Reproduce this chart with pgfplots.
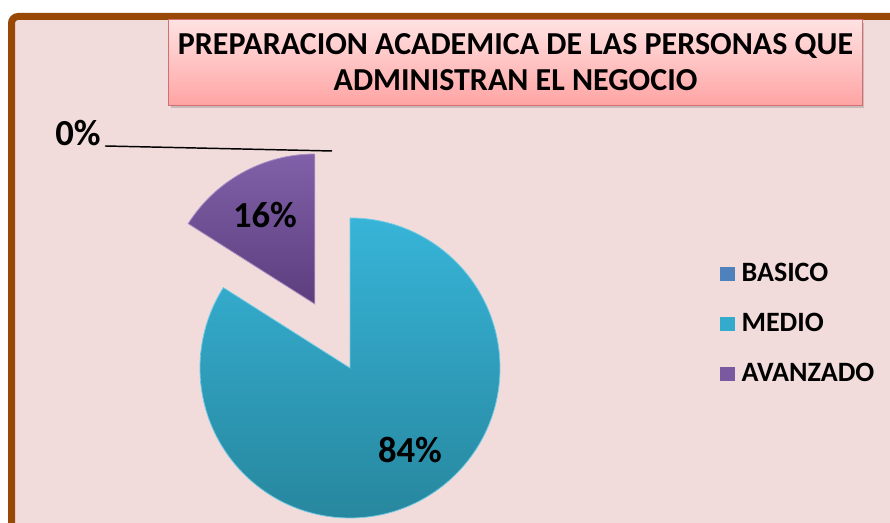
\documentclass[border=0pt]{standalone}
\usepackage{pgfplots}
\pgfplotsset{compat=1.18}
\usepackage{pgfplotstable}
\usepackage{fontspec}
\setmainfont{Carlito}
\usetikzlibrary{shadows}

\definecolor{bgpink}{HTML}{F2DCDB}
\definecolor{frame}{HTML}{984807}
\definecolor{ttop}{HTML}{FFE2E2}
\definecolor{tbot}{HTML}{FFA4A4}
\definecolor{tline}{HTML}{D46F71}
\definecolor{basico}{HTML}{4F81BD}
\definecolor{medtop}{HTML}{37B4D8}
\definecolor{medbot}{HTML}{27879E}
\definecolor{avatop}{HTML}{8060A8}
\definecolor{avabot}{HTML}{5C3E7E}

% shares of each level, in percent
\pgfplotstableread{
label value
BASICO 0
MEDIO 84
AVANZADO 16
}\piedata

\pgfplotstablegetelem{0}{value}\of\piedata \pgfmathtruncatemacro\vbas{\pgfplotsretval}
\pgfplotstablegetelem{1}{value}\of\piedata \pgfmathtruncatemacro\vmed{\pgfplotsretval}
\pgfplotstablegetelem{2}{value}\of\piedata \pgfmathtruncatemacro\vava{\pgfplotsretval}
% slices run clockwise from 12 o'clock
\pgfmathsetmacro\aA{90-3.6*\vbas}
\pgfmathsetmacro\aB{\aA-3.6*\vmed}
\pgfmathsetmacro\aC{\aB-3.6*\vava}
\pgfmathsetmacro\mC{(\aB+\aC)/2}
\pgfmathsetmacro\cx{350+73*cos(\mC)}
\pgfmathsetmacro\cy{155+73*sin(\mC)}

\begin{document}
\begin{tikzpicture}
\begin{axis}[
  x=0.75pt, y=0.75pt,
  xmin=0, xmax=890, ymin=0, ymax=523,
  hide axis, scale only axis, clip=false,
  at={(0,0)}, anchor=south west,
  legend style={at={(axis cs:716,264)}, anchor=north west,
    draw=none, fill=none, font=\bfseries\fontsize{21pt}{21pt}\selectfont,
    row sep=19.5pt, column sep=5pt,
    nodes={inner sep=0pt, text height=15pt, text depth=3pt}},
  legend cell align=left,
]
% frame and background
\fill[white] (axis cs:0,0) rectangle (axis cs:890,523);
\draw[line width=5.25pt, frame, fill=bgpink, rounded corners=5pt]
  (axis cs:11.5,-30) rectangle (axis cs:930,506.5);

% MEDIO
\path[top color=medtop, bottom color=medbot, draw=medtop!70!white, line width=0.6pt]
  (axis cs:350,155) -- ++(\aA:112.5pt) arc[start angle=\aA, end angle=\aB, radius=112.5pt] -- cycle;
% AVANZADO, pulled out
\path[top color=avatop, bottom color=avabot, draw=avatop!70!white, line width=0.6pt]
  (axis cs:\cx,\cy) -- ++(\aB:112.5pt) arc[start angle=\aB, end angle=\aC, radius=112.5pt] -- cycle;

% data labels
\node[font=\bfseries\fontsize{27.5pt}{30pt}\selectfont] at (axis cs:265,308) {\vava\%};
\node[font=\bfseries\fontsize{27.5pt}{30pt}\selectfont] at (axis cs:410,73) {\vmed\%};
\node[font=\bfseries\fontsize{27.5pt}{30pt}\selectfont] at (axis cs:78,390) {\vbas\%};
\draw[black, line width=1.1pt] (axis cs:105,377) -- (axis cs:332,372);

% title
\node[draw=tline, line width=0.8pt, top color=ttop, bottom color=tbot,
  drop shadow={shadow xshift=1.5pt, shadow yshift=-2.5pt, opacity=0.35},
  minimum width=520pt, minimum height=64pt, align=center,
  font=\bfseries\fontsize{24pt}{27pt}\selectfont]
  at (axis cs:515.5,460.5)
  {PREPARACION ACADEMICA DE LAS PERSONAS QUE\\ADMINISTRAN EL NEGOCIO};

\pgfplotsset{legend image code/.code={\fill[#1, draw=none] (0pt,-5.5pt) rectangle (11pt,5.5pt);}}
\addlegendimage{fill=basico}
\addlegendentry{BASICO}
\addlegendimage{fill=medtop!80!medbot}
\addlegendentry{MEDIO}
\addlegendimage{fill=avatop!80!avabot}
\addlegendentry{AVANZADO}
\end{axis}
\pgfresetboundingbox
\useasboundingbox (0,0) rectangle (667.5pt,392.25pt);
\end{tikzpicture}
\end{document}
